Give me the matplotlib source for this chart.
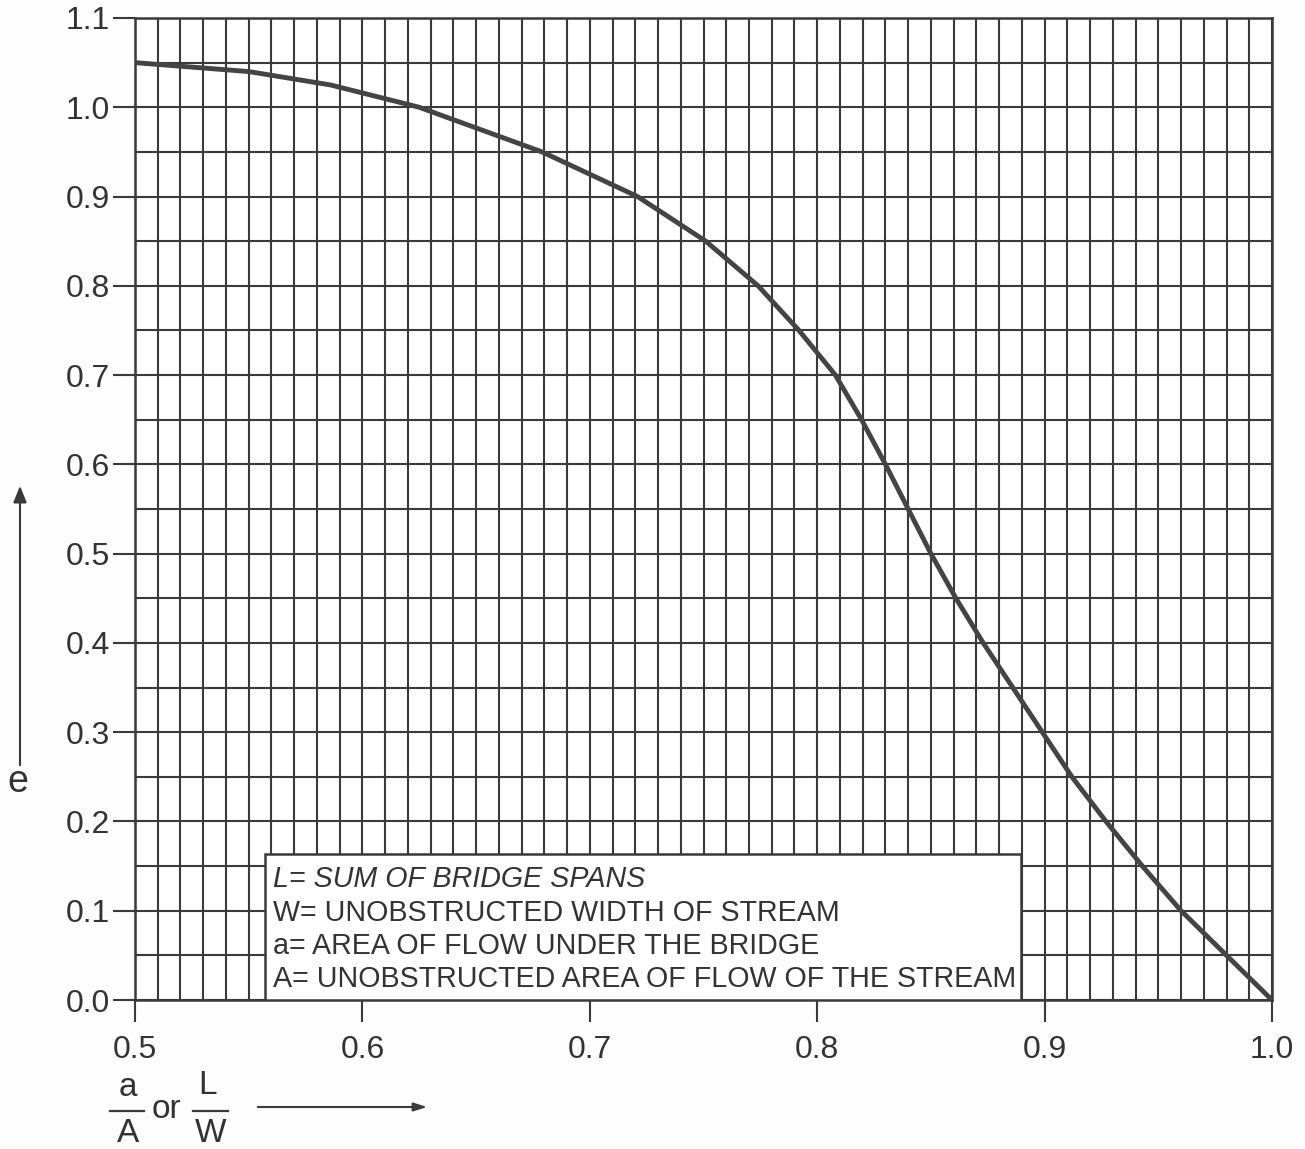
import numpy as np
import matplotlib
matplotlib.use("Agg")
import matplotlib.pyplot as plt
from matplotlib.lines import Line2D
from matplotlib.patches import FancyArrowPatch, Rectangle

plt.rcParams['font.family'] = ['Liberation Sans', 'DejaVu Sans']

# curve: e against a/A (or L/W)
ratio = [0.500, 0.550, 0.586, 0.625, 0.679, 0.721, 0.751, 0.774, 0.792, 0.808,
         0.8195, 0.830, 0.840, 0.850, 0.861, 0.873, 0.886, 0.899, 0.912, 0.927,
         0.943, 0.960, 0.980, 1.000]
e_val = [1.050, 1.040, 1.025, 1.000, 0.950, 0.900, 0.850, 0.800, 0.750, 0.700,
         0.650, 0.600, 0.550, 0.500, 0.450, 0.400, 0.350, 0.300, 0.250, 0.200,
         0.150, 0.100, 0.050, 0.000]

x_ticks = [0.5, 0.6, 0.7, 0.8, 0.9, 1.0]
y_ticks = [0.0, 0.1, 0.2, 0.3, 0.4, 0.5, 0.6, 0.7, 0.8, 0.9, 1.0, 1.1]

notes = ["L= SUM OF BRIDGE SPANS",
         "W= UNOBSTRUCTED WIDTH OF STREAM",
         "a= AREA OF FLOW UNDER THE BRIDGE",
         "A= UNOBSTRUCTED AREA OF FLOW OF THE STREAM"]

W, H = 1305, 1149
ink = '#3a3a3a'
txt = '#333333'


def px(x, y):
    return x / W, 1 - y / H


fig = plt.figure(figsize=(W / 100, H / 100), dpi=100)
fig.patch.set_facecolor('#fdfdfd')
ax = fig.add_axes([135 / W, 1 - 1000 / H, (1272 - 135) / W, (1000 - 18) / H])
ax.set_facecolor('white')
ax.set_xlim(0.5, 1.0)
ax.set_ylim(0.0, 1.1)

ax.set_xticks(x_ticks)
ax.set_xticklabels([f"{v:.1f}" for v in x_ticks])
ax.set_yticks(y_ticks)
ax.set_yticklabels([f"{v:.1f}" for v in y_ticks])
ax.set_xticks(np.arange(0.5, 1.0001, 0.01), minor=True)
ax.set_yticks(np.arange(0.0, 1.1001, 0.05), minor=True)
ax.grid(True, which='both', color=ink, linewidth=1.5)
ax.set_axisbelow(True)
ax.tick_params(which='major', direction='out', length=16, width=1.5, color=ink,
               labelsize=23, labelcolor=txt)
ax.tick_params(axis='x', which='major', pad=9)
ax.tick_params(axis='y', which='major', pad=2)
ax.tick_params(which='minor', length=0)
for s in ax.spines.values():
    s.set_color(ink)
    s.set_linewidth(1.8)

ax.plot(ratio, e_val, color='#444444', linewidth=3.5, solid_capstyle='round',
        solid_joinstyle='round', zorder=3)

# definitions box
bx0, bx1 = 0.5 + (265 - 135) / 2274, 0.5 + (1021 - 135) / 2274
ax.add_patch(Rectangle((bx0, 0.0), bx1 - bx0, 0.163, facecolor='white',
                       edgecolor=ink, linewidth=1.8, zorder=4))
for i, line in enumerate(notes):
    ax.text(bx0 + 0.0035, 0.135 - i * 0.037, line, fontsize=20.6, color=txt,
            style='italic' if i == 0 else 'normal', va='center', ha='left', zorder=5)

# y axis label with arrow
fig.text(*px(18, 782), "e", fontsize=27, color=txt, ha='center', va='center')
fig.patches.append(FancyArrowPatch(px(20, 768), px(20, 483), transform=fig.transFigure,
                                   arrowstyle='-|>,head_length=10,head_width=4',
                                   color=ink, linewidth=1.5))

# x axis label: a/A or L/W with arrow
fs = 24
fig.text(*px(128, 1088), "a", fontsize=fs, color=txt, ha='center', va='center')
fig.text(*px(128, 1133), "A", fontsize=fs, color=txt, ha='center', va='center')
fig.lines.append(Line2D([px(110, 0)[0], px(144, 0)[0]], [px(0, 1111)[1]] * 2,
                        transform=fig.transFigure, color=ink, linewidth=1.6))
fig.text(*px(166, 1109), "or", fontsize=fs, color=txt, ha='center', va='center')
fig.text(*px(207, 1085), "L", fontsize=fs, color=txt, ha='center', va='center')
fig.text(*px(211, 1133), "W", fontsize=fs, color=txt, ha='center', va='center')
fig.lines.append(Line2D([px(193, 0)[0], px(228, 0)[0]], [px(0, 1111)[1]] * 2,
                        transform=fig.transFigure, color=ink, linewidth=1.6))
fig.patches.append(FancyArrowPatch(px(255, 1107), px(430, 1107), transform=fig.transFigure,
                                   arrowstyle='-|>,head_length=8,head_width=2.5',
                                   color=ink, linewidth=1.5))

fig.savefig("out.png", dpi=100)
